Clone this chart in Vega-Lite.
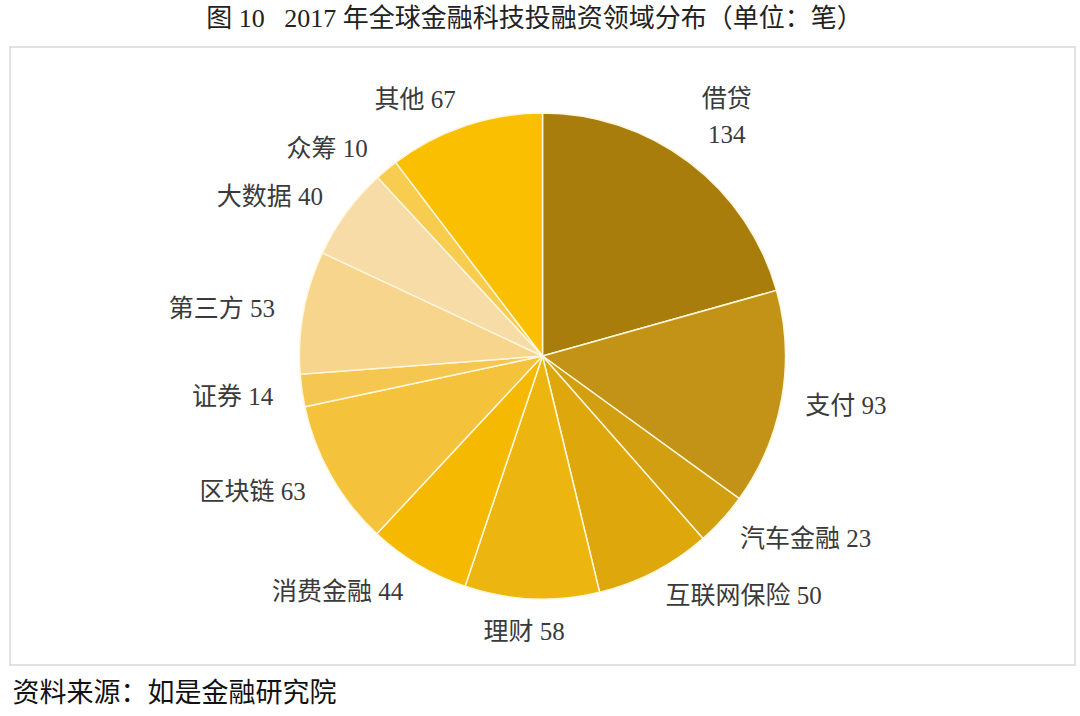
{
  "$schema": "https://vega.github.io/schema/vega-lite/v6.json",
  "width": 1065,
  "height": 618,
  "autosize": {"type": "none"},
  "padding": {"left": 10, "top": 47, "right": 5, "bottom": 51},
  "background": "#ffffff",
  "config": {
    "view": {"stroke": "#d9d9d9", "strokeWidth": 1.5},
    "font": "Liberation Serif, Noto Sans CJK SC"
  },
  "title": {
    "text": "图 10\u00a0\u00a0\u00a02017 年全球金融科技投融资领域分布（单位：笔）",
    "anchor": "middle",
    "fontSize": 26,
    "fontWeight": "normal",
    "color": "#222222",
    "font": "Liberation Serif, Noto Sans CJK SC",
    "offset": 15,
    "dx": -8
  },
  "data": {
    "values": [
      {"idx": 1, "name": "借贷", "value": 134, "label": "借贷\n134"},
      {"idx": 2, "name": "支付", "value": 93, "label": "支付 93"},
      {"idx": 3, "name": "汽车金融", "value": 23, "label": "汽车金融 23"},
      {"idx": 4, "name": "互联网保险", "value": 50, "label": "互联网保险 50"},
      {"idx": 5, "name": "理财", "value": 58, "label": "理财 58"},
      {"idx": 6, "name": "消费金融", "value": 44, "label": "消费金融 44"},
      {"idx": 7, "name": "区块链", "value": 63, "label": "区块链 63"},
      {"idx": 8, "name": "证券", "value": 14, "label": "证券 14"},
      {"idx": 9, "name": "第三方", "value": 53, "label": "第三方 53"},
      {"idx": 10, "name": "大数据", "value": 40, "label": "大数据 40"},
      {"idx": 11, "name": "众筹", "value": 10, "label": "众筹 10"},
      {"idx": 12, "name": "其他", "value": 67, "label": "其他 67"}
    ]
  },
  "transform": [
    {"stack": "value", "groupby": [], "sort": [{"field": "idx", "order": "ascending"}], "as": ["v0", "v1"]},
    {"calculate": "(datum.v0 + datum.v1) / 2", "as": "mid"}
  ],
  "layer": [
    {
      "mark": {"type": "rule", "opacity": 0},
      "encoding": {
        "x": {
          "field": "value",
          "type": "quantitative",
          "axis": {
            "domain": false,
            "ticks": false,
            "labels": false,
            "grid": false,
            "title": "资料来源：如是金融研究院",
            "titleAnchor": "start",
            "titleAlign": "left",
            "titleBaseline": "middle",
            "titleX": 2,
            "titleY": 28,
            "titleFontSize": 27,
            "titleFontWeight": "normal",
            "titleColor": "#111111",
            "titleFont": "Liberation Serif, Noto Sans CJK SC"
          }
        }
      }
    },
    {
      "mark": {"type": "arc", "outerRadius": 243, "stroke": "#fff6dc", "strokeWidth": 1.5},
      "encoding": {
        "theta": {"field": "v0", "type": "quantitative", "scale": {"domain": [0, 649]}},
        "theta2": {"field": "v1"},
        "color": {
          "field": "name",
          "type": "nominal",
          "legend": null,
          "scale": {
            "domain": ["借贷", "支付", "汽车金融", "互联网保险", "理财", "消费金融", "区块链", "证券", "第三方", "大数据", "众筹", "其他"],
            "range": ["#a97d0c", "#c29316", "#d19f0f", "#dea70b", "#edb50f", "#f4b900", "#f5c23c", "#f6c750", "#f7d58c", "#f8dca8", "#f8cc4e", "#f9bf00"]
          }
        }
      }
    },
    {
      "transform": [{"filter": {"field": "name", "oneOf": ["支付", "汽车金融", "互联网保险"]}}],
      "mark": {"type": "text", "radius": 267, "align": "left", "baseline": "middle", "dy": 3, "fontSize": 25, "color": "#3a3a3a"},
      "encoding": {
        "theta": {"field": "mid", "type": "quantitative"},
        "text": {"field": "label"}
      }
    },
    {
      "transform": [{"filter": {"field": "name", "oneOf": ["消费金融", "区块链", "证券", "第三方", "大数据", "众筹", "其他"]}}],
      "mark": {"type": "text", "radius": 272, "align": "right", "baseline": "middle", "dy": 2, "fontSize": 25, "color": "#3a3a3a"},
      "encoding": {
        "theta": {"field": "mid", "type": "quantitative"},
        "text": {"field": "label"}
      }
    },
    {
      "transform": [{"filter": {"field": "name", "equal": "借贷"}}],
      "mark": {"type": "text", "radius": 305, "align": "center", "baseline": "middle", "dy": -14, "fontSize": 25, "color": "#3a3a3a", "lineBreak": "\n", "lineHeight": 36},
      "encoding": {
        "theta": {"field": "mid", "type": "quantitative"},
        "text": {"field": "label"}
      }
    },
    {
      "transform": [{"filter": {"field": "name", "equal": "理财"}}],
      "mark": {"type": "text", "radius": 264, "align": "center", "baseline": "top", "dx": -7, "fontSize": 25, "color": "#3a3a3a"},
      "encoding": {
        "theta": {"field": "mid", "type": "quantitative"},
        "text": {"field": "label"}
      }
    }
  ]
}
